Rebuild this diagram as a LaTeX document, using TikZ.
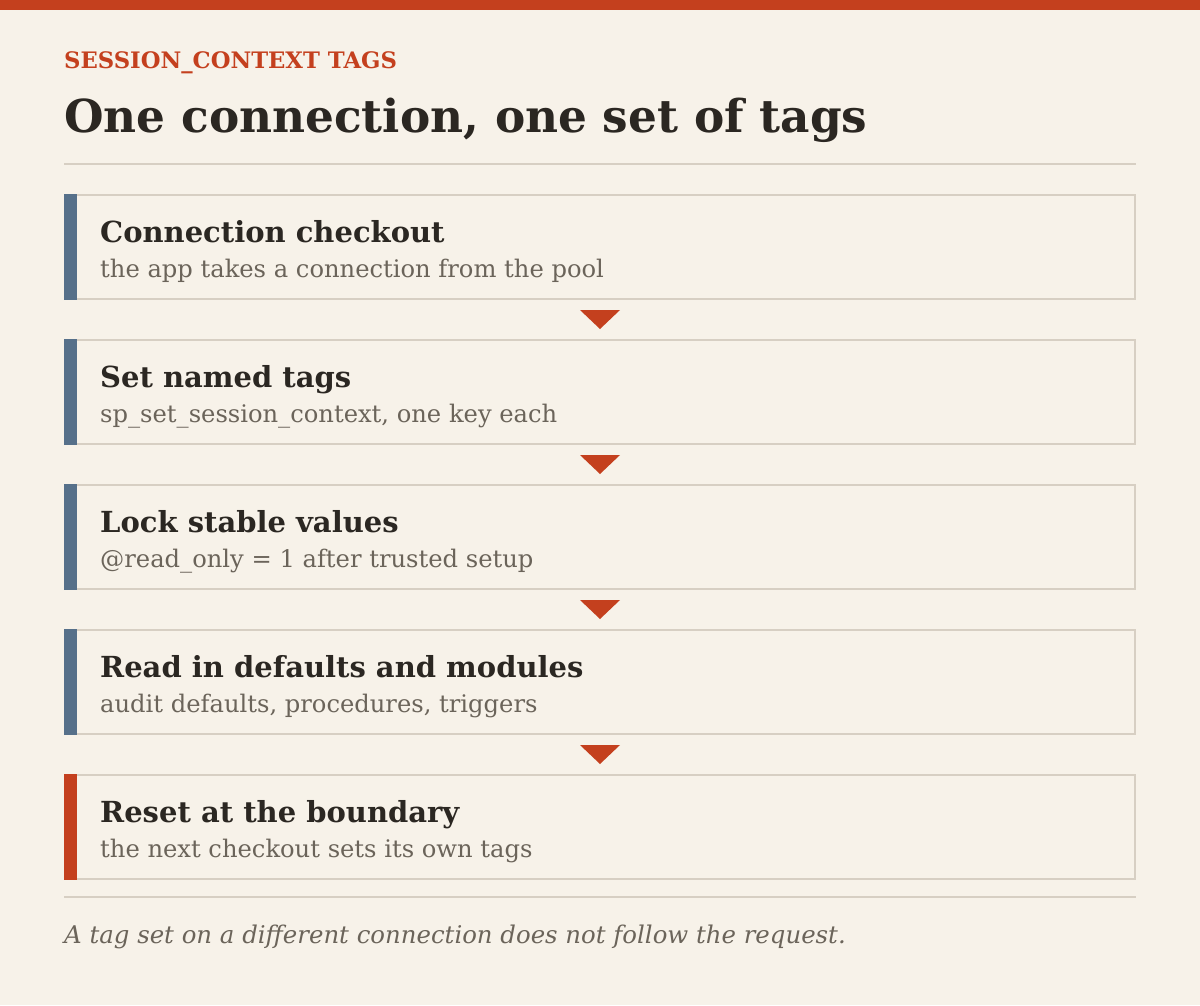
\documentclass[tikz,border=0pt]{standalone}
\usepackage{fontspec}
\setmainfont{DejaVu Serif}
\usetikzlibrary{calc,positioning}
\definecolor{paper}{HTML}{F7F2E9}
\definecolor{tagred}{HTML}{C4401E}
\definecolor{slate}{HTML}{56708A}
\definecolor{rulegray}{HTML}{D7CFC3}
\definecolor{ink}{HTML}{2B2722}
\definecolor{muted}{HTML}{6B645A}
\tikzset{>=stealth,
  stepbox/.style={draw=rulegray,line width=2pt,fill=paper,minimum width=1070pt,minimum height=104pt,anchor=north west,inner sep=0pt,outer sep=0pt},
  steptitle/.style={anchor=base west,inner sep=0pt,text=ink,font=\fontsize{29}{34}\selectfont\bfseries},
  stepnote/.style={anchor=base west,inner sep=0pt,text=muted,font=\fontsize{24.2}{28}\selectfont},
  flowmark/.style={fill=tagred}}

\begin{document}
\begin{tikzpicture}[x=1pt,y=-1pt]
      \fill[paper] (0,0) rectangle (1200,1005);
      \useasboundingbox (0,0) rectangle (1200,1005);
      \fill[tagred] (0,0) rectangle (1200,10);
      \node[anchor=base west,inner sep=0pt,text=tagred,font=\fontsize{22.7}{26}\selectfont\bfseries] (kicker) at (64,68) {SESSION\_CONTEXT TAGS};
      \node[anchor=base west,inner sep=0pt,text=ink,font=\fontsize{45.4}{54}\selectfont\bfseries] (headline) at (64,132) {One connection, one set of tags};
      \draw[rulegray,line width=2pt] (64,164) -- (1136,164);
      \node[stepbox] (b1) at (65,195) {};
      \node[stepbox] (b2) at (65,340) {};
      \node[stepbox] (b3) at (65,485) {};
      \node[stepbox] (b4) at (65,630) {};
      \node[stepbox] (b5) at (65,775) {};
      \fill[slate]  (64,194) rectangle ++(13,106);
      \fill[slate]  (64,339) rectangle ++(13,106);
      \fill[slate]  (64,484) rectangle ++(13,106);
      \fill[slate]  (64,629) rectangle ++(13,106);
      \fill[tagred] (64,774) rectangle ++(13,106);
      \node[steptitle] (t1) at (100,242) {Connection checkout};
      \node[stepnote]  (n1) at (100,277) {the app takes a connection from the pool};
      \node[steptitle] (t2) at (100,387) {Set named tags};
      \node[stepnote]  (n2) at (100,422) {sp\_set\_session\_context, one key each};
      \node[steptitle] (t3) at (100,532) {Lock stable values};
      \node[stepnote]  (n3) at (100,567) {@read\_only = 1 after trusted setup};
      \node[steptitle] (t4) at (100,677) {Read in defaults and modules};
      \node[stepnote]  (n4) at (100,712) {audit defaults, procedures, triggers};
      \node[steptitle] (t5) at (100,822) {Reset at the boundary};
      \node[stepnote]  (n5) at (100,857) {the next checkout sets its own tags};
      \coordinate (m1) at ($(b1.south)!0.5!(b2.north)$);
      \coordinate (m2) at ($(b2.south)!0.5!(b3.north)$);
      \coordinate (m3) at ($(b3.south)!0.5!(b4.north)$);
      \coordinate (m4) at ($(b4.south)!0.5!(b5.north)$);
      \fill[flowmark] (m1) ++(-20,-9.5) -- ++(40,0) -- ++(-20,19) -- cycle;
      \fill[flowmark] (m2) ++(-20,-9.5) -- ++(40,0) -- ++(-20,19) -- cycle;
      \fill[flowmark] (m3) ++(-20,-9.5) -- ++(40,0) -- ++(-20,19) -- cycle;
      \fill[flowmark] (m4) ++(-20,-9.5) -- ++(40,0) -- ++(-20,19) -- cycle;
      \draw[rulegray,line width=2pt] (64,897) -- (1136,897);
      \node[anchor=base west,inner sep=0pt,text=muted,font=\fontsize{24.4}{28}\selectfont\itshape] (footer) at (64,943) {A tag set on a different connection does not follow the request.};
    \end{tikzpicture}
\end{document}
